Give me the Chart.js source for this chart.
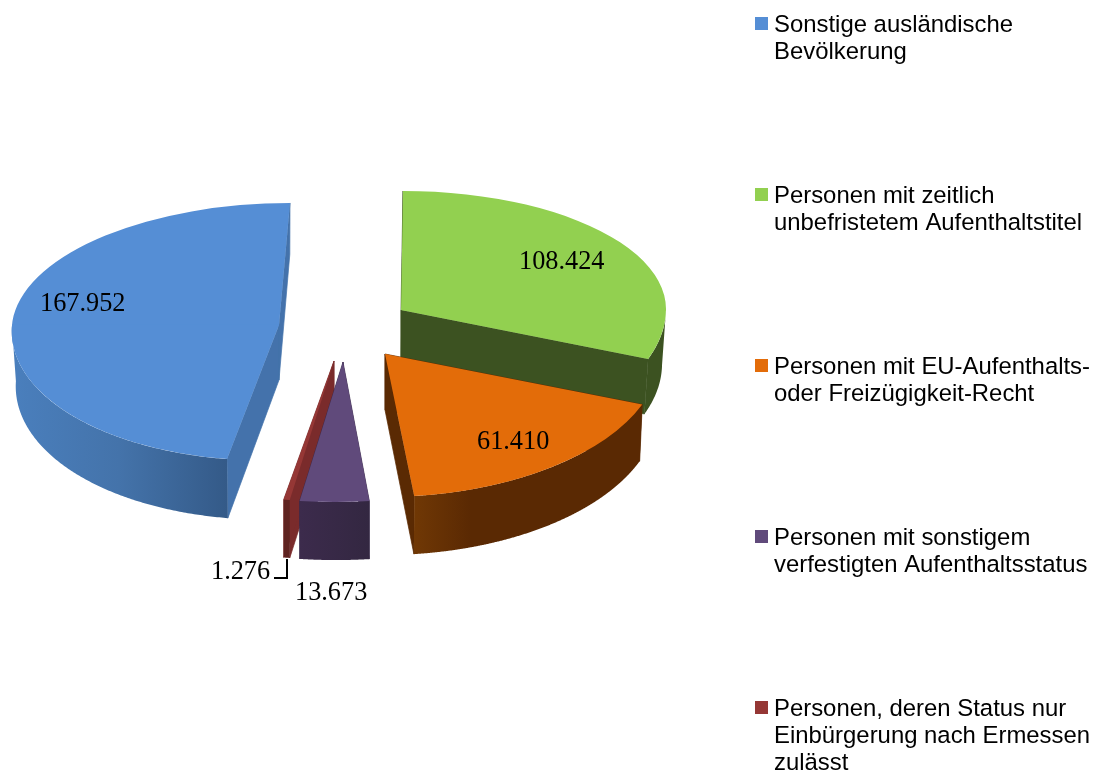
<!DOCTYPE html>
<html lang="de">
<head>
<meta charset="utf-8">
<title>Ausländische Bevölkerung nach Aufenthaltsstatus</title>
<script src="https://cdn.jsdelivr.net/npm/chart.js@4"></script>
<style>
    html, body { margin: 0; background: #fff; }
    canvas { display: block; }
</style>
</head>
<body>
<canvas id="grafik" width="1093" height="772"></canvas>
<script>
// Werte in Uhrzeigerrichtung, ab 12 Uhr
const categories = [
    ['Personen mit zeitlich', 'unbefristetem Aufenthaltstitel'],
    ['Personen mit EU-Aufenthalts-', 'oder Freizügigkeit-Recht'],
    ['Personen mit sonstigem', 'verfestigten Aufenthaltsstatus'],
    ['Personen, deren Status nur', 'Einbürgerung nach Ermessen', 'zulässt'],
    ['Sonstige ausländische', 'Bevölkerung']
];
const values = [108424, 61410, 13673, 1276, 167952];
const colors = ['#92d050', '#e36c09', '#604a7b', '#953735', '#558ed5'];
const legendOrder = [4, 0, 1, 2, 3];

// 3D-Ansicht je Segment: Spitze, Radius, Stauchung oben/unten, Scherung, Tiefe
const views = [
    { x: 401, y: 310, r: 265, up: 0.449, down: 0.524, shear: -0.017, depth: 55, lowX: 0.985, lowY: 1 },
    { x: 385, y: 354, r: 276, up: 0.5, down: 0.518, shear: -0.02, depth: 56, lowX: 0.99, lowY: 1.015 },
    { x: 343, y: 362, r: 287, up: 0.5, down: 0.488, shear: -0.05, depth: 58, lowX: 1, lowY: 1 },
    { x: 334, y: 361, r: 272, up: 0.5, down: 0.515, shear: -0.07, depth: 58, lowX: 1, lowY: 1 },
    { x: 279, y: 325, r: 267, up: 0.457, down: 0.508, shear: -0.09, depth: 55, lowX: 0.985, lowY: 1.03 }
];
const drawOrder = [4, 0, 1, 3, 2];
const cutColors = ['#3c5221', '#5a2a03', '#3a2a4a', '#7a2b2b', '#4472ab'];
const rimColors = [
    ['#3c5221', '#3c5221'],
    ['#703805', '#5a2903'],
    ['#3c2b4c', '#332741'],
    ['#5f2320', '#5f2320'],
    ['#4a7fbd', '#345a88']
];
const labelPos = [[519, 269], [477, 449], [295, 600], [211, 579], [40, 311]];

function topPoint(v, arc, angle) {
    const sx = v.r / arc.outerRadius;
    const X = Math.cos(angle) * arc.outerRadius * sx;
    const Y = Math.sin(angle) * arc.outerRadius;
    const y = Y * (Y < 0 ? v.up : v.down) * sx;
    return [X + v.shear * y, y];
}

function drawSides(ctx, v, arc, i) {
    const up = p => [v.x + p[0], v.y + p[1]];
    const low = p => [v.x + p[0] * v.lowX, v.y + v.depth + p[1] * v.lowY];
    const poly = pts => {
        ctx.beginPath();
        pts.forEach((p, n) => n ? ctx.lineTo(p[0], p[1]) : ctx.moveTo(p[0], p[1]));
        ctx.closePath();
        ctx.fill();
    };

    // Schnittflächen, mit feiner Kontur gegen helle Nahtstellen
    ctx.fillStyle = cutColors[i];
    ctx.strokeStyle = cutColors[i];
    ctx.lineWidth = 0.7;
    [arc.startAngle, arc.endAngle].forEach(a => {
        const p = topPoint(v, arc, a);
        poly([up([0, 0]), up(p), low(p), low([0, 0])]);
        ctx.stroke();
    });

    // Außenrand, nur die vordere Hälfte ist sichtbar
    const steps = 360;
    const topEdge = [], lowEdge = [];
    for (let n = 0; n <= steps; n++) {
        const p = topPoint(v, arc, arc.startAngle + (arc.endAngle - arc.startAngle) * n / steps);
        if (p[1] < 0) continue;
        topEdge.push(up(p));
        lowEdge.unshift(low(p));
    }
    const xs = topEdge.map(p => p[0]);
    const grad = ctx.createLinearGradient(Math.min(...xs), 0, Math.max(...xs), 0);
    if (i === 1) {
        grad.addColorStop(0, rimColors[i][0]);
        grad.addColorStop(0.25, rimColors[i][1]);
        grad.addColorStop(1, rimColors[i][1]);
    } else if (i === 4) {
        grad.addColorStop(0, rimColors[i][0]);
        grad.addColorStop(0.5, '#4473aa');
        grad.addColorStop(1, rimColors[i][1]);
    } else {
        grad.addColorStop(0, rimColors[i][0]);
        grad.addColorStop(1, rimColors[i][1]);
    }
    ctx.fillStyle = grad;
    poly(topEdge.concat(lowEdge));
}

function drawTop(ctx, chart, v, arc) {
    const sx = v.r / arc.outerRadius;
    [[0, v.y + 0.5, v.up], [v.y - 0.5, chart.height, v.down]].forEach(part => {
        ctx.save();
        ctx.beginPath();
        ctx.rect(0, part[0], chart.width, part[1] - part[0]);
        ctx.clip();
        ctx.translate(v.x, v.y);
        ctx.transform(sx, 0, v.shear * part[2] * sx, part[2] * sx, 0, 0);
        ctx.translate(-arc.x, -arc.y);
        arc.draw(ctx);
        ctx.restore();
    });
}

const pie3d = {
    id: 'pie3d',
    beforeDatasetDraw(chart) {
        const ctx = chart.ctx;
        const arcs = chart.getDatasetMeta(0).data;
        drawOrder.forEach(i => {
            drawSides(ctx, views[i], arcs[i], i);
            drawTop(ctx, chart, views[i], arcs[i]);
        });
        return false;
    },
    afterDraw(chart) {
        const ctx = chart.ctx;
        ctx.save();
        ctx.textBaseline = 'alphabetic';
        ctx.textAlign = 'left';

        // Werte
        ctx.fillStyle = '#000';
        ctx.font = '26.3px "Liberation Serif"';
        values.forEach((val, i) => {
            ctx.fillText(val.toLocaleString('de-DE'), labelPos[i][0], labelPos[i][1]);
        });

        // Führungslinie zu 1.276
        ctx.strokeStyle = '#000';
        ctx.lineWidth = 2;
        ctx.beginPath();
        ctx.moveTo(274, 578);
        ctx.lineTo(287, 578);
        ctx.lineTo(287, 559);
        ctx.stroke();

        // Legende
        ctx.font = '23.9px "Liberation Sans"';
        legendOrder.forEach((i, row) => {
            const base = 32 + row * 171;
            ctx.fillStyle = colors[i];
            ctx.fillRect(755, base - 15, 13, 13);
            ctx.fillStyle = '#000';
            chart.data.labels[i].forEach((line, n) => {
                ctx.fillText(line, 774, base + n * 27);
            });
        });
        ctx.restore();
    }
};

new Chart(document.getElementById('grafik').getContext('2d'), {
    type: 'pie',
    data: {
        labels: categories,
        datasets: [{
            data: values,
            backgroundColor: colors,
            borderWidth: 0
        }]
    },
    options: {
        responsive: false,
        animation: false,
        radius: 266,
        plugins: {
            legend: { display: false },
            tooltip: { enabled: false }
        }
    },
    plugins: [pie3d]
});
</script>
</body>
</html>
